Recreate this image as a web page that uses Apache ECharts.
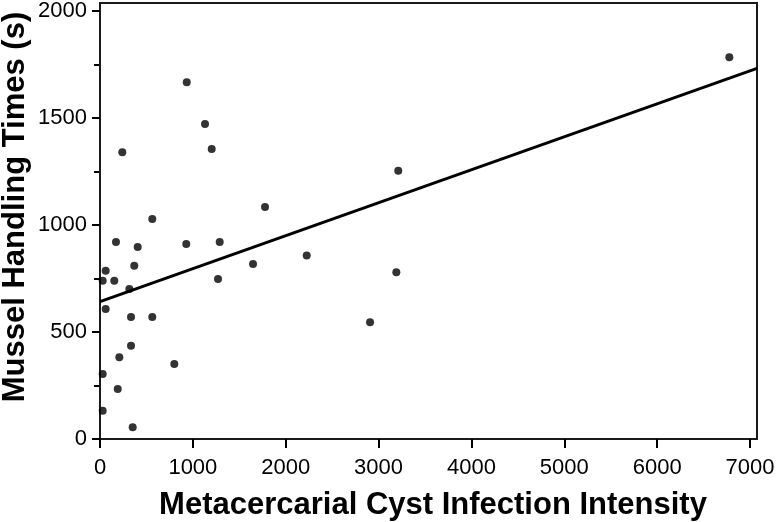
<!DOCTYPE html>
<html>
<head>
<meta charset="utf-8">
<script src="https://cdn.jsdelivr.net/npm/echarts@6/dist/echarts.min.js"></script>
<style>
  html, body { margin: 0; padding: 0; background: #fff; }
  #chart { width: 779px; height: 522px; }
</style>
</head>
<body>
<div id="chart"></div>
<script>
'use strict';
// infection intensity (cysts) and handling time (s)
var infection = [240, 1131, 1203, 563, 1777, 172, 406, 929, 1289, 369, 1648, 61, 29, 154, 1271, 316,
	61, 334, 563, 352, 29, 191, 29, 208, 334, 800, 934, 3212, 2226, 3191, 2908, 6777];
var handling = [1340, 1472, 1355, 1028, 1084, 921, 897, 911, 921, 810, 818, 786, 740, 740, 748, 701,
	607, 570, 570, 55, 132, 234, 304, 382, 436, 350, 1667, 1254, 857, 779, 545, 1784];
// regression line end points
var fitX = [0, 7075];
var fitY = [642, 1732];
var xTicks = [0, 1000, 2000, 3000, 4000, 5000, 6000, 7000];
var yTicks = [0, 500, 1000, 1500, 2000];
var yMinorTicks = [250, 750, 1250, 1750];

var font = "'Liberation Sans', Arial, sans-serif";
var ink = '#000';

var points = infection.map(function(x, i) { return [x, handling[i]]; });
var fit = fitX.map(function(x, i) { return [x, fitY[i]]; });
var plain = function(v) { return String(v); };

var option = {
	animation: false,
	backgroundColor: '#fff',
	grid: {
		left: 100, right: 22, top: 3, bottom: 83,
		show: true,
		borderColor: '#1a1a1a',
		borderWidth: 2,
		backgroundColor: 'transparent'
	},
	xAxis: {
		type: 'value',
		min: 0,
		max: 7075,
		offset: 4,
		axisLine: { show: false },
		axisTick: { customValues: xTicks, length: 9, lineStyle: { color: ink, width: 2 } },
		axisLabel: { customValues: xTicks, formatter: plain, fontSize: 22, color: ink, fontFamily: font, margin: 14 },
		splitLine: { show: false }
	},
	yAxis: [{
		type: 'value',
		min: 0,
		max: 2037,
		offset: 1,
		axisLine: { show: false },
		axisTick: { customValues: yTicks, length: 8, lineStyle: { color: ink, width: 2 } },
		axisLabel: { customValues: yTicks, formatter: plain, fontSize: 22, color: ink, fontFamily: font, margin: 12 },
		splitLine: { show: false }
	}, {
		// minor ticks
		type: 'value',
		position: 'left',
		min: 0,
		max: 2037,
		offset: 1,
		axisLine: { show: false },
		axisTick: { customValues: yMinorTicks, length: 5, lineStyle: { color: ink, width: 2 } },
		axisLabel: { show: false },
		splitLine: { show: false }
	}],
	graphic: [{
		type: 'text',
		x: 433, y: 505,
		style: {
			text: 'Metacercarial Cyst Infection Intensity',
			font: 'bold 31px ' + font,
			fill: '#000',
			textAlign: 'center',
			textVerticalAlign: 'middle'
		}
	}, {
		type: 'text',
		x: 15, y: 207,
		rotation: Math.PI / 2,
		style: {
			text: 'Mussel Handling Times (s)',
			font: 'bold 31px ' + font,
			fill: '#000',
			textAlign: 'center',
			textVerticalAlign: 'middle'
		}
	}],
	series: [{
		name: 'fit',
		type: 'line',
		data: fit,
		showSymbol: false,
		lineStyle: { color: '#000', width: 3 },
		z: 2
	}, {
		name: 'mussels',
		type: 'scatter',
		data: points,
		symbolSize: 8,
		itemStyle: { color: '#000' },
		z: 3
	}]
};

var myChart = echarts.init(document.getElementById('chart'));
myChart.setOption(option);
</script>
</body>
</html>
